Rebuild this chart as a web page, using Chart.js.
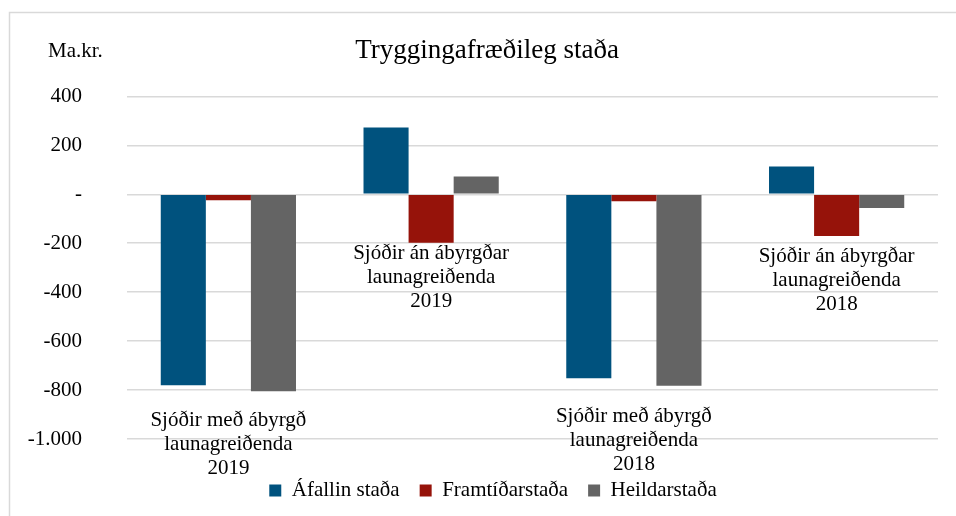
<!DOCTYPE html>
<html>
<head>
<meta charset="utf-8">
<script src="https://cdn.jsdelivr.net/npm/chart.js@4"></script>
<style>
html,body{margin:0;padding:0;background:#fff;}
canvas{display:block;}
</style>
</head>
<body>
<canvas id="c" width="956" height="516"></canvas>
<script>
const categories = [
  ["Sjóðir með ábyrgð", "launagreiðenda", "2019"],
  ["Sjóðir án ábyrgðar", "launagreiðenda", "2019"],
  ["Sjóðir með ábyrgð", "launagreiðenda", "2018"],
  ["Sjóðir án ábyrgðar", "launagreiðenda", "2018"]
];
const seriesNames = ["Áfallin staða", "Framtíðarstaða", "Heildarstaða"];
const afallin = [-780, 273, -752, 114];
const framtid = [-24, -198, -28, -170];
const heild = [-805, 73, -782, -56];
const yTicks = [400, 200, 0, -200, -400, -600, -800, -1000];
const titleText = "Tryggingafræðileg staða";
const unitText = "Ma.kr.";

const FONT = "'Liberation Serif', 'Times New Roman', serif";
const colors = ["#00527e", "#96130a", "#646464"];

function fmt(v) {
  if (v === 0) return "-";
  const s = Math.abs(v).toString().replace(/\B(?=(\d{3})+(?!\d))/g, ".");
  return (v < 0 ? "-" : "") + s;
}

const borderPlugin = {
  id: 'frame',
  beforeDraw(chart) {
    const ctx = chart.ctx;
    ctx.save();
    ctx.strokeStyle = '#d9d9d9';
    ctx.lineWidth = 1.5;
    ctx.beginPath();
    ctx.moveTo(9.5, 516);
    ctx.lineTo(9.5, 12.5);
    ctx.lineTo(956, 12.5);
    ctx.stroke();
    ctx.restore();
  }
};

// nudge title and legend horizontally (Excel centres them slightly right)
const shiftPlugin = {
  id: 'shiftBoxes',
  afterLayout(chart, args, opts) {
    if (chart.titleBlock) { chart.titleBlock.left += opts.title; chart.titleBlock.right += opts.title; }
    if (chart.legend) { chart.legend.left += opts.legend; chart.legend.right += opts.legend; }
  }
};

const labelPlugin = {
  id: 'catLabels',
  afterDatasetsDraw(chart, args, opts) {
    const ctx = chart.ctx;
    const xs = chart.scales.x, ys = chart.scales.y;
    ctx.save();
    ctx.font = "21px " + FONT;
    ctx.fillStyle = '#000';
    ctx.textAlign = 'center';
    ctx.textBaseline = 'middle';
    categories.forEach((lines, i) => {
      const minV = Math.min(0, ...chart.data.datasets.map(d => d.data[i]));
      const x = xs.getPixelForValue(i);
      const y0 = ys.getPixelForValue(minV) + opts.gaps[i];
      lines.forEach((t, k) => ctx.fillText(t, x, y0 + k * opts.lineSpacing));
    });
    ctx.textAlign = 'left';
    ctx.fillText(unitText, 48, 51);
    ctx.restore();
  }
};

new Chart(document.getElementById('c'), {
  type: 'bar',
  data: {
    labels: categories,
    datasets: [
      { label: seriesNames[0], data: afallin, backgroundColor: colors[0] },
      { label: seriesNames[1], data: framtid, backgroundColor: colors[1] },
      { label: seriesNames[2], data: heild, backgroundColor: colors[2] }
    ]
  },
  options: {
    responsive: false,
    animation: false,
    devicePixelRatio: 1,
    layout: { padding: { left: 20, right: 18, top: 0, bottom: 5 } },
    datasets: { bar: { categoryPercentage: 0.667, barPercentage: 1.0 } },
    scales: {
      x: {
        grid: { display: false },
        border: { display: false },
        ticks: { display: false },
        afterFit(s) { s.height = 21; }
      },
      y: {
        min: -1000, max: 400,
        afterBuildTicks(s) { s.ticks = yTicks.map(v => ({ value: v })); },
        afterFit(s) { s.width = 107; },
        grid: { color: '#d9d9d9', lineWidth: 1.5, drawTicks: false },
        border: { display: false },
        ticks: {
          padding: 45,
          color: '#000',
          font: { family: FONT, size: 21 },
          callback: v => fmt(v)
        }
      }
    },
    plugins: {
      title: {
        display: true,
        text: titleText,
        color: '#000',
        font: { family: FONT, size: 27, weight: 'normal' },
        padding: { top: 35, bottom: 29 }
      },
      legend: {
        position: 'bottom',
        labels: {
          color: '#000',
          font: { family: FONT, size: 21 },
          boxWidth: 12,
          boxHeight: 12,
          padding: 20
        }
      },
      tooltip: { enabled: false },
      catLabels: { gaps: [29, 11, 31, 21], lineSpacing: 24 },
      shiftBoxes: { title: 8, legend: 14 }
    }
  },
  plugins: [borderPlugin, shiftPlugin, labelPlugin]
});
</script>
</body>
</html>
